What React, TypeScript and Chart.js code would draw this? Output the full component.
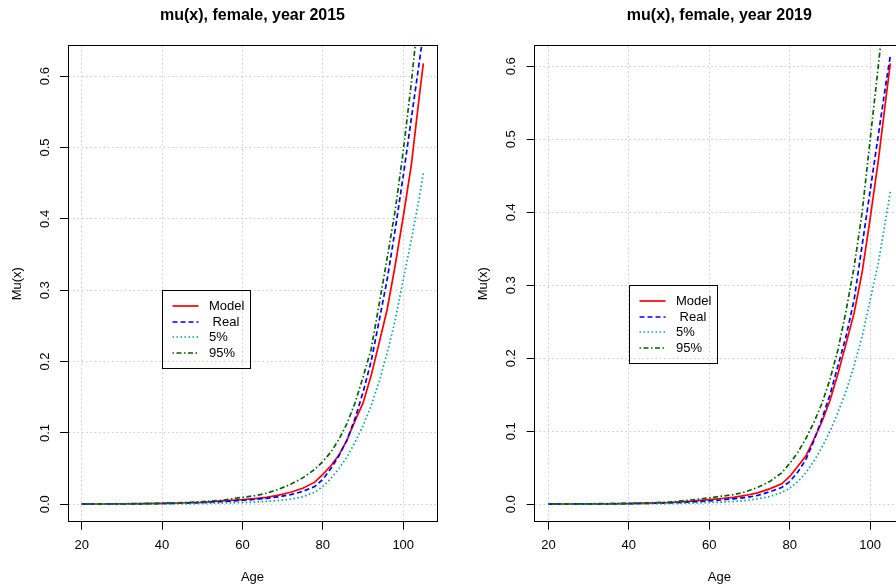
import React, { useEffect, useRef } from "react";
import { Chart, registerables } from "chart.js";

Chart.register(...registerables);

const FONT = '"Liberation Sans", Arial, Helvetica, sans-serif';

const AGES = [20, 25, 30, 35, 40, 45, 50, 55, 60, 63, 66, 69, 72, 75, 78, 80, 82, 84, 86, 88, 90, 92, 94, 96, 98, 100, 102, 104, 105];

// Year 2015
const MODEL_2015 = [0.0003, 0.0004, 0.0005, 0.0008, 0.0012, 0.0018, 0.0028, 0.0047, 0.0065, 0.008, 0.0098, 0.0128, 0.0168, 0.0225, 0.031, 0.042, 0.054, 0.069, 0.09, 0.117, 0.142, 0.18, 0.226, 0.273, 0.335, 0.403, 0.475, 0.572, 0.618];
const REAL_2015 = [0.0003, 0.0004, 0.0005, 0.0007, 0.0011, 0.0016, 0.0025, 0.0038, 0.0056, 0.0068, 0.0083, 0.0105, 0.0135, 0.018, 0.025, 0.035, 0.05, 0.068, 0.09, 0.12, 0.157, 0.2, 0.257, 0.315, 0.385, 0.46, 0.54, 0.62, 0.66];
const LOW_2015 = [0.0001, 0.0002, 0.0003, 0.0004, 0.0006, 0.0008, 0.0012, 0.0017, 0.0023, 0.003, 0.004, 0.0053, 0.0072, 0.0105, 0.017, 0.025, 0.036, 0.05, 0.066, 0.087, 0.11, 0.138, 0.172, 0.212, 0.258, 0.315, 0.37, 0.43, 0.4645];
const HIGH_2015 = [0.0004, 0.0005, 0.0007, 0.001, 0.0015, 0.0023, 0.0036, 0.0058, 0.0097, 0.012, 0.0155, 0.021, 0.028, 0.037, 0.049, 0.06, 0.073, 0.091, 0.113, 0.142, 0.178, 0.217, 0.28, 0.345, 0.412, 0.495, 0.59, 0.7, 0.75];

// Year 2019
const MODEL_2019 = [0.0002, 0.0003, 0.0004, 0.0006, 0.0009, 0.0014, 0.0022, 0.004, 0.0063, 0.0078, 0.0095, 0.012, 0.0155, 0.021, 0.028, 0.038, 0.052, 0.066, 0.089, 0.113, 0.142, 0.179, 0.22, 0.262, 0.318, 0.392, 0.47, 0.56, 0.604];
const REAL_2019 = [0.0002, 0.0003, 0.0004, 0.0005, 0.0008, 0.0012, 0.0018, 0.003, 0.0046, 0.0058, 0.0074, 0.0092, 0.012, 0.017, 0.023, 0.031, 0.044, 0.061, 0.087, 0.117, 0.15, 0.19, 0.23, 0.28, 0.355, 0.43, 0.505, 0.58, 0.614];
const LOW_2019 = [0.0001, 0.0002, 0.0003, 0.0004, 0.0005, 0.0007, 0.001, 0.0015, 0.0023, 0.003, 0.0038, 0.005, 0.0072, 0.0105, 0.016, 0.022, 0.031, 0.043, 0.059, 0.078, 0.1, 0.126, 0.155, 0.19, 0.23, 0.28, 0.33, 0.395, 0.428];
const HIGH_2019 = [0.0003, 0.0004, 0.0006, 0.0009, 0.0013, 0.002, 0.003, 0.0055, 0.0087, 0.011, 0.013, 0.017, 0.023, 0.031, 0.043, 0.056, 0.071, 0.09, 0.112, 0.138, 0.171, 0.212, 0.265, 0.325, 0.4, 0.5, 0.6, 0.7, 0.75];

const SERIES_LABELS = ["Model", " Real", "5%", "95%"];
const SERIES_COLORS = ["#FF0000", "#0000FF", "#00A0A0", "#006400"];
const SERIES_DASH = [[], [5, 3], [1.5, 2.5], [1.5, 2.5, 5, 2.5]];

const X_TICKS = [20, 40, 60, 80, 100];
const Y_TICKS = [0, 0.1, 0.2, 0.3, 0.4, 0.5, 0.6];
const LEGEND_AT = { x: 40, y: 0.3 };

type PanelProps = {
  title: string;
  series: number[][];
  left: number;
  canvasWidth: number;
  axisWidth: number;
  yTitlePad: number;
};

function Panel({ title, series, left, canvasWidth, axisWidth, yTitlePad }: PanelProps) {
  const ref = useRef<HTMLCanvasElement>(null);

  useEffect(() => {
    const canvas = ref.current;
    if (!canvas) return;
    const model = series[0];
    const lo = Math.min(...model);
    const hi = Math.max(...model);
    const yPad = (hi - lo) * 0.04;
    const xLo = AGES[0];
    const xHi = AGES[AGES.length - 1];
    const xPad = (xHi - xLo) * 0.04;
    const font13 = { family: FONT, size: 13 };
    const gridColor = "#C9C9C9";
    const gridDash = [1.5, 2.8];

    const legendPlugin = {
      id: "rLegend",
      afterDatasetsDraw(chart: any) {
        const { ctx } = chart;
        const xs = chart.scales.x;
        const ys = chart.scales.y;
        const bx = Math.round(xs.getPixelForValue(LEGEND_AT.x)) + 0.5;
        const by = Math.round(ys.getPixelForValue(LEGEND_AT.y)) + 0.5;
        const w = 88;
        const h = 78;
        ctx.save();
        ctx.strokeStyle = "#000";
        ctx.lineWidth = 1;
        ctx.setLineDash([]);
        ctx.strokeRect(bx, by, w, h);
        ctx.font = `13px ${FONT}`;
        ctx.textBaseline = "middle";
        ctx.textAlign = "left";
        chart.data.datasets.forEach((ds: any, i: number) => {
          const ry = Math.round(by + 15.5 + i * 15.7);
          ctx.strokeStyle = ds.borderColor;
          ctx.lineWidth = ds.borderWidth;
          ctx.setLineDash(ds.borderDash);
          ctx.beginPath();
          ctx.moveTo(bx + 10, ry);
          ctx.lineTo(bx + 36, ry);
          ctx.stroke();
          ctx.fillStyle = "#000";
          ctx.fillText(ds.label, bx + 46.5, ry);
        });
        ctx.restore();
      },
    };

    const chart = new Chart(canvas, {
      type: "line",
      data: {
        datasets: series.map((vals, i) => ({
          label: SERIES_LABELS[i],
          data: AGES.map((a, j) => ({ x: a, y: vals[j] })),
          borderColor: SERIES_COLORS[i],
          backgroundColor: SERIES_COLORS[i],
          borderDash: SERIES_DASH[i],
          borderWidth: 1.7,
          pointRadius: 0,
          fill: false,
          tension: 0,
          clip: 0,
          order: 3 - i,
        })),
      },
      options: {
        responsive: false,
        animation: false,
        events: [],
        layout: { padding: { left: 0, right: 11, top: 0, bottom: 0 } },
        plugins: {
          legend: { display: false },
          tooltip: { enabled: false },
          title: {
            display: true,
            text: title,
            fullSize: false,
            color: "#000",
            font: { family: FONT, size: 16, weight: "bold" },
            padding: { top: 6, bottom: 20.5 },
          },
        },
        scales: {
          x: {
            type: "linear",
            position: "bottom",
            min: xLo - xPad,
            max: xHi + xPad,
            afterBuildTicks: (s: any) => {
              s.ticks = X_TICKS.map((v) => ({ value: v }));
            },
            afterFit: (s: any) => {
              s.height = 65.3;
            },
            ticks: {
              autoSkip: false,
              maxRotation: 0,
              padding: 8,
              color: "#000",
              font: font13,
              callback: (v: any) => String(v),
            },
            grid: {
              color: gridColor,
              lineWidth: 1,
              tickColor: "#000",
              tickLength: 8,
              tickWidth: 1,
            },
            border: { display: true, color: "#000", width: 1, dash: gridDash },
            title: {
              display: true,
              text: "Age",
              color: "#000",
              font: font13,
              padding: { top: 0, bottom: 1.5 },
            },
          },
          y: {
            type: "linear",
            position: "left",
            min: lo - yPad,
            max: hi + yPad,
            afterBuildTicks: (s: any) => {
              s.ticks = Y_TICKS.map((v) => ({ value: v }));
            },
            afterFit: (s: any) => {
              s.width = axisWidth;
            },
            ticks: {
              autoSkip: false,
              minRotation: 90,
              maxRotation: 90,
              crossAlign: "center",
              padding: 6,
              color: "#000",
              font: font13,
              callback: (v: any) => Number(v).toFixed(1),
            },
            grid: {
              color: gridColor,
              lineWidth: 1,
              tickColor: "#000",
              tickLength: 8,
              tickWidth: 1,
            },
            border: { display: true, color: "#000", width: 1, dash: gridDash },
            title: {
              display: true,
              text: "Mu(x)",
              color: "#000",
              font: font13,
              padding: { top: yTitlePad, bottom: 0 },
            },
          },
          x2: {
            type: "linear",
            position: "top",
            min: xLo - xPad,
            max: xHi + xPad,
            ticks: { display: false },
            grid: { display: false, drawTicks: false },
            border: { display: true, color: "#000", width: 1 },
            afterFit: (s: any) => {
              s.height = 0;
            },
          },
          y2: {
            type: "linear",
            position: "right",
            min: lo - yPad,
            max: hi + yPad,
            ticks: { display: false },
            grid: { display: false, drawTicks: false },
            border: { display: true, color: "#000", width: 1 },
            afterFit: (s: any) => {
              s.width = 0;
            },
          },
        },
      } as any,
      plugins: [legendPlugin],
    });

    return () => chart.destroy();
  }, [title, series, canvasWidth, axisWidth, yTitlePad]);

  return (
    <canvas
      ref={ref}
      width={canvasWidth}
      height={587}
      style={{ position: "absolute", left, top: 0, width: canvasWidth, height: 587 }}
    />
  );
}

const SERIES_2015 = [MODEL_2015, REAL_2015, LOW_2015, HIGH_2015];
const SERIES_2019 = [MODEL_2019, REAL_2019, LOW_2019, HIGH_2019];

export default function App() {
  return (
    <div
      style={{
        position: "fixed",
        left: 0,
        top: 0,
        width: 896,
        height: 587,
        overflow: "hidden",
        background: "#fff",
      }}
    >
      <Panel title="mu(x), female, year 2015" series={SERIES_2015} left={0} canvasWidth={448} axisWidth={68} yTitlePad={10} />
      <Panel title="mu(x), female, year 2019" series={SERIES_2019} left={448} canvasWidth={467} axisWidth={86.7} yTitlePad={28} />
    </div>
  );
}
